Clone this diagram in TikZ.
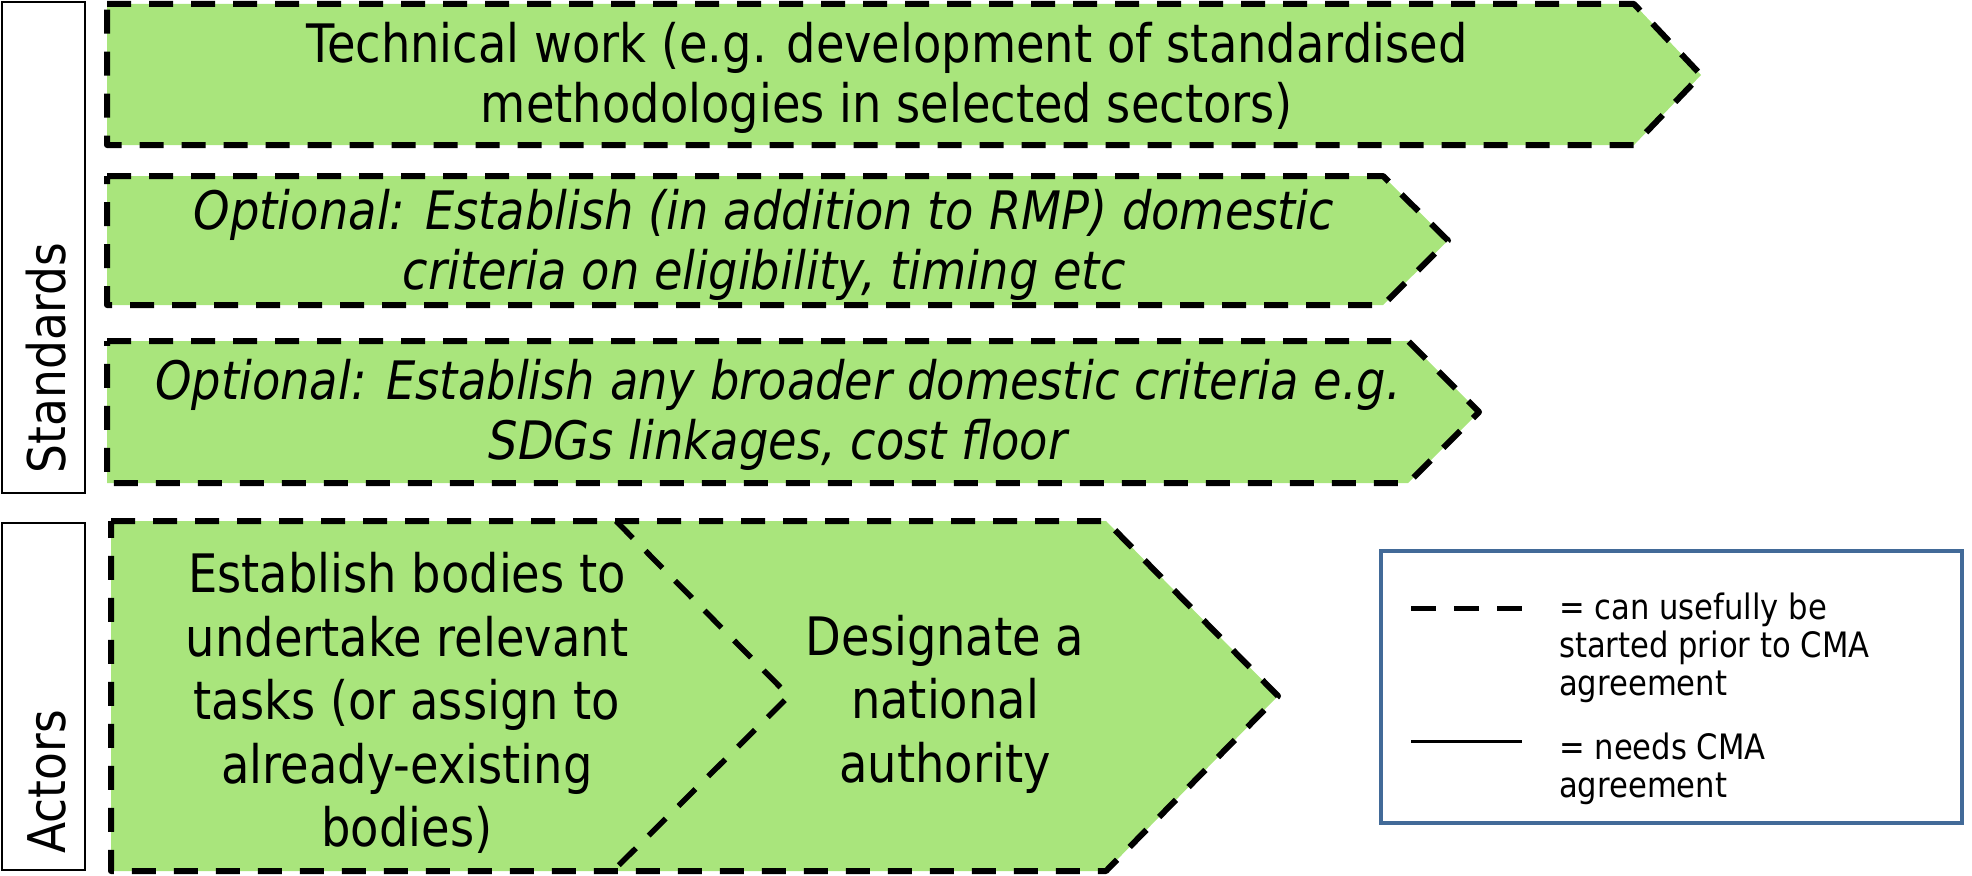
\documentclass[tikz,border=0pt]{standalone}
\usepackage{fontspec}
\setmainfont{DejaVu Sans}[FakeStretch=0.875]
\definecolor{leaf}{RGB}{169,229,124}
\definecolor{legendblue}{RGB}{66,106,152}
\tikzset{
  x=1pt, y=-1pt,
  stage/.style={fill=leaf, draw=black, line width=6pt, dash pattern=on 24pt off 18pt, line join=round},
  divider/.style={draw=black, line width=5.5pt, dash pattern=on 24pt off 18pt},
  tag/.style={draw=black, line width=2.2pt},
  tagtext/.style={rotate=90, anchor=base, inner sep=0pt, font=\fontsize{52}{60}\selectfont},
  boxtext/.style={align=center, inner sep=0pt, font=\fontsize{53}{60}\selectfont},
  slanttext/.style={boxtext, font=\fontsize{53}{60}\selectfont\itshape},
  actortext/.style={align=center, inner sep=0pt, font=\fontsize{53}{63.5}\selectfont},
  legendtext/.style={align=left, anchor=west, inner sep=0pt, font=\fontsize{35}{38}\selectfont},
}
\begin{document}
\begin{tikzpicture}
\useasboundingbox (0,0) rectangle (1972,875);

% row labels
\draw[tag] (2,2) rectangle (85,493);
\node[tagtext] (stdlabel) at (65,358) {Standards};
\draw[tag] (2,523) rectangle (85,870);
\node[tagtext] (actlabel) at (65,782) {Actors};

% standards arrows
\draw[stage] (107,4) -- (1634,4) -- (1701,75) -- (1634,145) -- (107,145) -- cycle;
\node[boxtext] (tech) at (887,78) {Technical work (e.g. development of standardised\\methodologies in selected sectors)};

\draw[stage] (107,176) -- (1383,176) -- (1448,240.5) -- (1383,305) -- (107,305) -- cycle;
\node[slanttext] (opt1) at (764,245) {Optional: Establish (in addition to RMP) domestic\\criteria on eligibility, timing etc};

\draw[stage] (107,341) -- (1408,341) -- (1479,412) -- (1408,483) -- (107,483) -- cycle;
\node[slanttext] (opt2) at (778,415) {Optional: Establish any broader domestic criteria e.g.\\SDGs linkages, cost floor};

% actors arrow with inner chevron
\draw[stage] (111,521) -- (1106,521) -- (1278,696) -- (1106,871) -- (111,871) -- cycle;
\coordinate (chtop) at (616,521);
\coordinate (chtip) at (789,696);
\coordinate (chbot) at (613,871);
\draw[divider] (chtop) -- (chtip) -- (chbot);
\node[actortext] (bodies) at (407,703) {Establish bodies to\\undertake relevant\\tasks (or assign to\\already-existing\\bodies)};
\node[actortext] (authority) at (945,704) {Designate a\\national\\authority};

% legend
\draw[draw=legendblue, line width=4pt] (1381,551) rectangle (1962,823);
\coordinate (da) at (1411,608);
\coordinate (db) at (1522,608);
\draw[line width=5pt, dash pattern=on 25pt off 18pt] (da) -- (db);
\coordinate (sa) at (1411,741);
\coordinate (sb) at (1522,741);
\draw[line width=3pt] (sa) -- (sb);
\node[legendtext] (legdash) at (1559,648) {= can usefully be\\started prior to CMA\\agreement};
\node[legendtext] (legsolid) at (1559,768.5) {= needs CMA\\agreement};
\end{tikzpicture}
\end{document}
